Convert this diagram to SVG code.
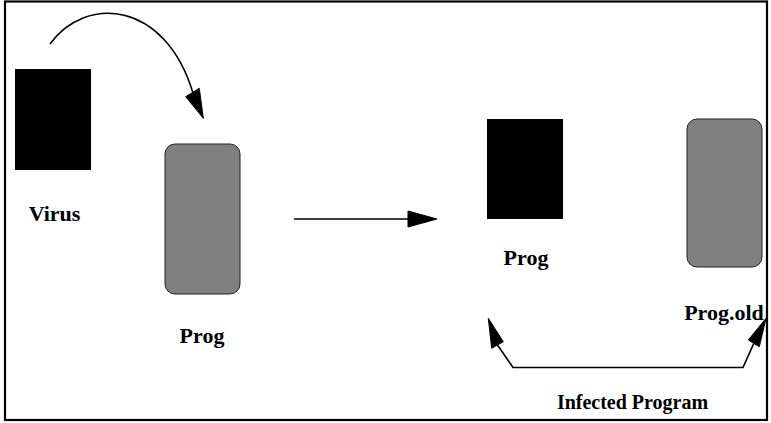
<svg xmlns="http://www.w3.org/2000/svg" width="771" height="423" viewBox="0 0 771 423">
<style>
.lbl{font-family:"Liberation Serif","Times New Roman",serif;font-weight:bold;font-size:22px;fill:#000;text-anchor:middle}
.virus{fill:#000}
.prog{fill:#808080;stroke:#222;stroke-width:1}
.conn{fill:none;stroke:#000;stroke-width:1.6}
.head{fill:#000;stroke:#000;stroke-width:1}
</style>
<rect x="5" y="1.5" width="762" height="418.5" fill="#fff" stroke="#000" stroke-width="2.2"/>
<g id="virus">
<rect class="virus" x="15" y="69" width="76" height="101"/>
<text class="lbl" x="54.5" y="221">Virus</text>
</g>
<g id="prog">
<rect class="prog" x="165" y="144" width="75" height="150" rx="10" ry="10"/>
<text class="lbl" x="202" y="343">Prog</text>
</g>
<g id="prog-infected">
<rect class="virus" x="487" y="119" width="76" height="100"/>
<text class="lbl" x="526" y="265">Prog</text>
</g>
<g id="prog-old">
<rect class="prog" x="687" y="119" width="75" height="148" rx="10" ry="10"/>
<text class="lbl" x="724" y="320">Prog.old</text>
</g>
<g id="infected-label">
<text class="lbl" x="632.5" y="409" style="font-size:20px">Infected Program</text>
</g>
<g id="connectors">
<path class="conn" d="M50,44 C85,-5 165,0 193,93"/>
<polygon class="head" points="203.3,118.3 185.7,96.7 199.3,88.3"/>
<line class="conn" x1="294" y1="219" x2="410" y2="219"/>
<polygon class="head" points="437,219 408,211 408,227"/>
<polyline class="conn" points="497.5,345 513,367.5 743,367.5 753.8,343.3"/>
<polygon class="head" points="488.3,318.3 491.7,348.3 503.3,341.7"/>
<polygon class="head" points="766,318.3 748.3,340 759.3,346.7"/>
</g>
</svg>
